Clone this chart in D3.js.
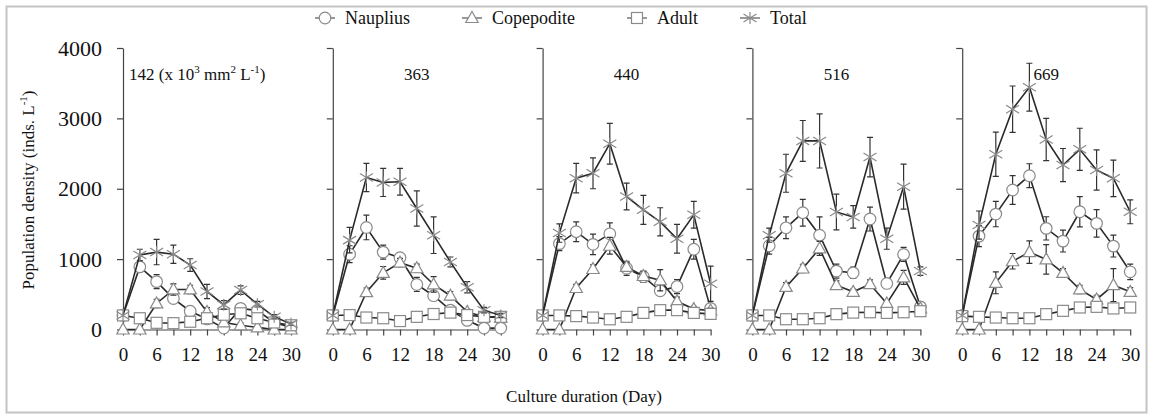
<!DOCTYPE html>
<html>
<head>
<meta charset="utf-8">
<script src="https://cdn.jsdelivr.net/npm/d3@7"></script>
<style>
  body { margin: 0; background: #fff; }
  text { font-family: "Liberation Serif", "Times New Roman", serif; fill: #111; }
</style>
</head>
<body>
<svg id="chart" width="1151" height="416"></svg>
<script>
// sampling days
var days = [0, 3, 6, 9, 12, 15, 18, 21, 24, 27, 30];
var densities = ["142", "363", "440", "516", "669"];

// one row per density panel (inds. L-1)
var nauplius = [
  [200, 890, 680, 440, 260, 150, 20, 300, 270, 100, 30],
  [200, 1070, 1450, 1100, 1020, 640, 480, 275, 130, 20, 20],
  [200, 1220, 1390, 1210, 1360, 870, 750, 550, 610, 1140, 300],
  [200, 1190, 1445, 1660, 1340, 830, 805, 1570, 654, 1067, 322],
  [200, 1327, 1640, 1982, 2185, 1437, 1256, 1673, 1508, 1185, 820]
];
var naupliusSD = [
  [0, 60, 100, 60, 50, 40, 30, 60, 40, 20, 10],
  [0, 120, 175, 100, 60, 100, 60, 40, 30, 20, 20],
  [0, 100, 140, 145, 155, 100, 80, 60, 100, 140, 60],
  [0, 120, 155, 190, 260, 100, 80, 170, 60, 100, 40],
  [0, 150, 180, 205, 170, 165, 155, 215, 195, 155, 110]
];
var copepodite = [
  [0, 0, 370, 569, 569, 250, 100, 60, 30, 0, 0],
  [0, 0, 530, 805, 950, 870, 640, 480, 250, 180, 170],
  [0, 0, 590, 860, 1190, 890, 760, 700, 400, 290, 270],
  [0, 0, 606, 867, 1152, 630, 535, 644, 370, 740, 300],
  [0, 0, 663, 970, 1100, 996, 805, 569, 427, 630, 535]
];
var copepoditeSD = [
  [0, 0, 60, 80, 60, 60, 30, 30, 20, 0, 0],
  [0, 0, 60, 90, 60, 60, 110, 60, 40, 30, 20],
  [0, 0, 50, 60, 120, 60, 60, 150, 60, 40, 30],
  [0, 0, 60, 60, 100, 60, 40, 60, 40, 100, 40],
  [0, 0, 155, 110, 160, 210, 60, 60, 60, 235, 60]
];
var adult = [
  [200, 160, 95, 90, 110, 160, 210, 230, 160, 100, 60],
  [200, 205, 170, 160, 120, 180, 220, 240, 205, 180, 180],
  [200, 200, 190, 170, 145, 180, 236, 275, 275, 236, 222],
  [200, 200, 146, 146, 160, 218, 240, 245, 236, 245, 260],
  [190, 180, 170, 160, 160, 218, 265, 313, 322, 299, 313]
];
var adultSD = [
  [0, 20, 20, 20, 20, 20, 20, 20, 20, 20, 10],
  [0, 20, 20, 20, 20, 20, 20, 20, 20, 20, 20],
  [0, 10, 10, 10, 10, 10, 20, 20, 20, 20, 80],
  [0, 20, 20, 20, 20, 20, 20, 20, 20, 20, 20],
  [0, 20, 20, 20, 20, 20, 20, 20, 20, 20, 20]
];
var total = [
  [200, 1060, 1100, 1070, 915, 540, 350, 560, 360, 180, 80],
  [200, 1270, 2160, 2090, 2100, 1720, 1340, 960, 600, 275, 200],
  [200, 1370, 2150, 2220, 2640, 1890, 1700, 1530, 1290, 1630, 650],
  [200, 1340, 2220, 2680, 2680, 1670, 1600, 2450, 1290, 2030, 830],
  [200, 1484, 2490, 3130, 3443, 2700, 2337, 2560, 2266, 2148, 1673]
];
var totalSD = [
  [0, 80, 180, 130, 90, 100, 60, 60, 40, 30, 20],
  [0, 180, 200, 200, 190, 250, 260, 70, 80, 40, 30],
  [0, 130, 210, 220, 290, 190, 205, 200, 205, 190, 250],
  [0, 100, 270, 290, 385, 255, 160, 280, 150, 320, 60],
  [0, 200, 315, 330, 340, 300, 235, 300, 285, 260, 170]
];
var yTicks = [0, 1000, 2000, 3000, 4000];

var series = [
  {name: "Nauplius", shape: "circle", values: nauplius, sd: naupliusSD},
  {name: "Copepodite", shape: "triangle", values: copepodite, sd: copepoditeSD},
  {name: "Adult", shape: "square", values: adult, sd: adultSD},
  {name: "Total", shape: "star", values: total, sd: totalSD}
];

var svg = d3.select("#chart");
var markGrey = "#8a8a8a", lineCol = "#2a2a2a", axisCol = "#444";

// outer frame
svg.append("rect")
  .attr("x", 6.5).attr("y", 6.5).attr("width", 1140).attr("height", 406)
  .attr("fill", "none").attr("stroke", "#c4c4c4").attr("stroke-width", 2);

var y = d3.scaleLinear().domain([0, 4000]).range([329.5, 48]);
var panelLeft = 123, panelStep = 209.8, panelW = 168;

function marker(sel, shape) {
  if (shape == "circle") {
    sel.append("circle").attr("r", 5.8);
  } else if (shape == "square") {
    sel.append("rect").attr("x", -5.5).attr("y", -5.5).attr("width", 11).attr("height", 11);
  } else if (shape == "triangle") {
    sel.append("path").attr("d", "M0,-6.5L6.2,4.5L-6.2,4.5Z");
  } else {
    // excel style asterisk
    sel.append("path").attr("d", "M0,-6V6M-6.5,-4L6.5,4M-6.5,4L6.5,-4");
  }
}

densities.forEach(function(dens, p) {
  var x0 = panelLeft + p * panelStep;
  var x = d3.scaleLinear().domain([0, 30]).range([x0, x0 + panelW]);
  var g = svg.append("g");

  // axes
  var ya = g.append("g").attr("transform", "translate(" + x0 + ",0)")
    .call(d3.axisLeft(y).tickValues(yTicks).tickSize(6).tickSizeOuter(0).tickPadding(15)
      .tickFormat(p == 0 ? d3.format("d") : function() { return ""; }));
  var xa = g.append("g").attr("transform", "translate(0," + y(0) + ")")
    .call(d3.axisBottom(x).tickValues(days).tickSize(6).tickSizeOuter(0).tickPadding(12)
      .tickFormat(function(d) { return d % 6 == 0 ? d : ""; }));
  [ya, xa].forEach(function(a) {
    a.attr("font-family", null);
    a.selectAll("path,line").attr("stroke", axisCol).attr("stroke-width", 1.2);
    a.selectAll("text").attr("fill", "#111");
  });
  ya.selectAll("text").attr("font-size", 22);
  xa.selectAll("text").attr("font-size", 19);

  // series
  series.forEach(function(s) {
    var pts = days.map(function(d, i) { return {d: d, v: s.values[p][i], e: s.sd[p][i]}; });
    g.append("path").datum(pts)
      .attr("fill", "none").attr("stroke", lineCol).attr("stroke-width", 1.6)
      .attr("d", d3.line().x(function(q) { return x(q.d); }).y(function(q) { return y(q.v); }));
    var eb = g.append("g").attr("stroke", "#333").attr("stroke-width", 1.2).attr("fill", "none");
    pts.filter(function(q) { return q.e > 0; }).forEach(function(q) {
      var cx = x(q.d), y1 = y(q.v + q.e), y2 = y(Math.max(0, q.v - q.e));
      eb.append("path").attr("d", "M" + cx + "," + y1 + "V" + y2 +
        "M" + (cx - 3) + "," + y1 + "H" + (cx + 3) + "M" + (cx - 3) + "," + y2 + "H" + (cx + 3));
    });
    var mk = g.append("g").attr("fill", "#fff").attr("stroke", markGrey).attr("stroke-width", 1.2);
    pts.forEach(function(q) {
      var m = mk.append("g").attr("transform", "translate(" + x(q.d) + "," + y(q.v) + ")");
      marker(m, s.shape);
    });
  });

  // panel label
  if (p == 0) {
    var t = g.append("text").attr("x", x0 + 6).attr("y", 80).attr("font-size", 17);
    t.append("tspan").text(dens + " (x 10");
    t.append("tspan").attr("font-size", 11).attr("dy", -7).text("3");
    t.append("tspan").attr("dy", 7).text(" mm");
    t.append("tspan").attr("font-size", 11).attr("dy", -7).text("2");
    t.append("tspan").attr("dy", 7).text(" L");
    t.append("tspan").attr("font-size", 11).attr("dy", -7).text("-1");
    t.append("tspan").attr("dy", 7).text(")");
  } else {
    g.append("text").attr("x", x0 + 84).attr("y", 80).attr("font-size", 17)
      .attr("text-anchor", "middle").text(dens);
  }
});

// axis titles
var yt = svg.append("text").attr("transform", "translate(34,190) rotate(-90)")
  .attr("text-anchor", "middle").attr("font-size", 17);
yt.append("tspan").text("Population density (inds. L");
yt.append("tspan").attr("font-size", 11).attr("dy", -7).text("-1");
yt.append("tspan").attr("dy", 7).text(")");

svg.append("text").attr("x", 584).attr("y", 402).attr("text-anchor", "middle")
  .attr("font-size", 17).text("Culture duration (Day)");

// legend
var legX = [325, 472, 637, 750];
series.forEach(function(s, i) {
  var lg = svg.append("g").attr("transform", "translate(" + legX[i] + ",18)");
  lg.append("line").attr("x1", -10).attr("x2", 10).attr("stroke", "#555").attr("stroke-width", 1.2);
  var m = lg.append("g").attr("fill", "#fff").attr("stroke", markGrey).attr("stroke-width", 1.2);
  marker(m, s.shape);
  lg.append("text").attr("x", 20).attr("y", 6).attr("font-size", 18).text(s.name);
});
</script>
</body>
</html>
